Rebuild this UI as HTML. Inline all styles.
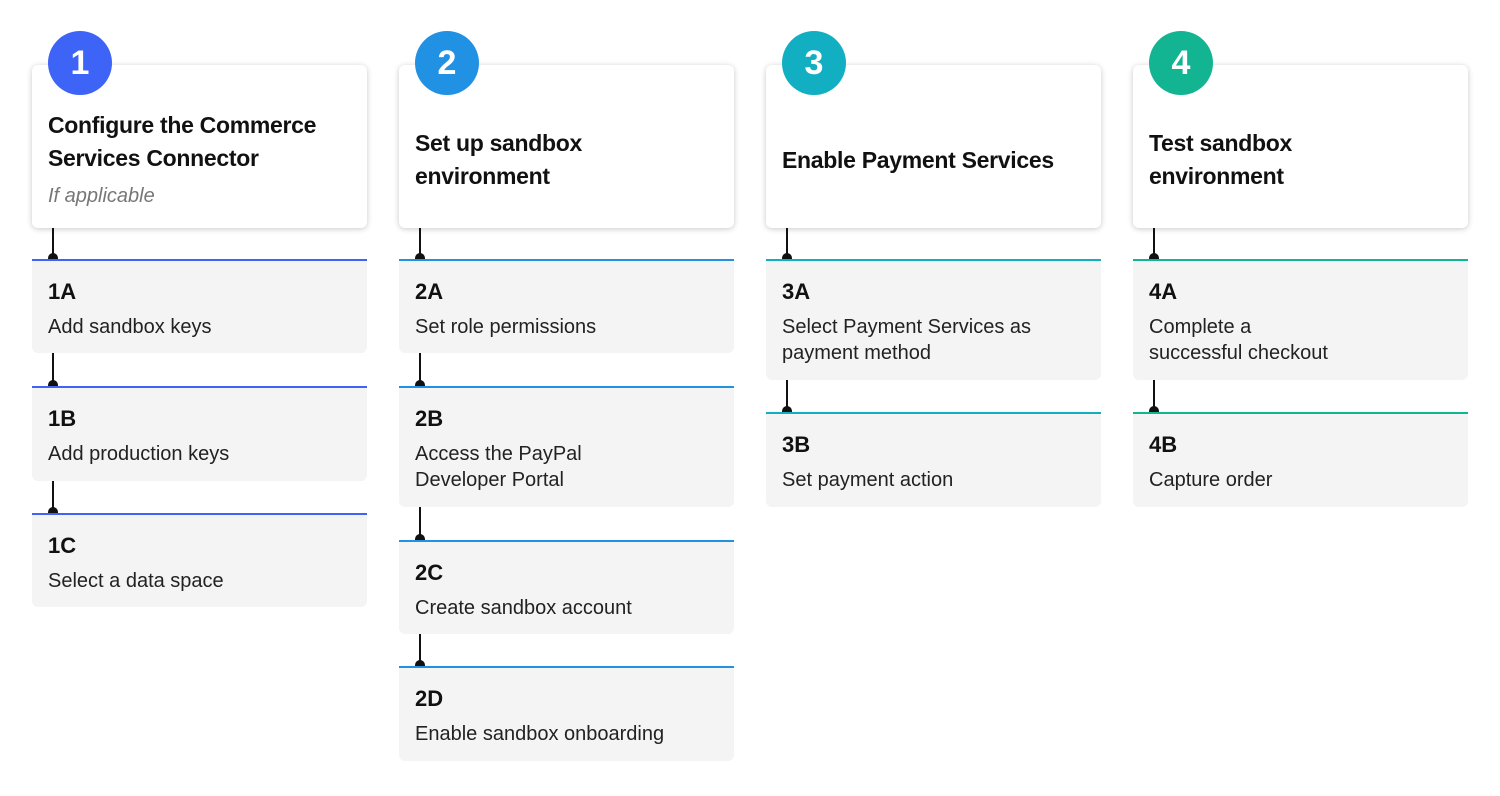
<!DOCTYPE html>
<html><head><style>
body{margin:0;width:1500px;height:796px;background:#fff;font-family:"Liberation Sans",sans-serif;position:relative;overflow:hidden}
.card{position:absolute;width:335px;top:65px;height:163px;background:#fff;border-radius:6px;box-shadow:0 1px 6px rgba(0,0,0,0.22)}
.card .t{position:absolute;left:16px;right:10px;font-weight:bold;font-size:23px;line-height:33px;color:#111;letter-spacing:-0.3px}
.card .i{position:absolute;left:16px;top:120px;font-style:italic;font-size:20px;color:#777}
.circ{position:absolute;width:64px;height:64px;border-radius:50%;color:#fff;font-weight:bold;font-size:34px;text-align:center;line-height:64px;top:31px}
.sub{position:absolute;width:335px;background:#f4f4f4;border-top:2px solid;border-radius:0 0 6px 6px;box-sizing:border-box}
.sub b{position:absolute;left:16px;top:18px;font-size:22px;color:#111}
.sub span{position:absolute;left:16px;top:53px;font-size:20px;line-height:26px;color:#222}
.con{position:absolute;width:2px;background:#111}
.dot{position:absolute;width:10px;height:7px;border-radius:5px 5px 0 0;background:#111}
</style></head><body>
<div id="root"></div>
<script>
const cols=[
 {x:32,c:"#3d64f6",n:"1",t:"Configure the Commerce<br>Services Connector",tt:44,i:"If applicable",s:[[259,353,"1A","Add sandbox keys"],[386,481,"1B","Add production keys"],[513,607,"1C","Select a data space"]]},
 {x:399,c:"#2191e3",n:"2",t:"Set up sandbox<br>environment",tt:62,s:[[259,353,"2A","Set role permissions"],[386,507,"2B","Access the PayPal<br>Developer Portal"],[540,634,"2C","Create sandbox account"],[666,761,"2D","Enable sandbox onboarding"]]},
 {x:766,c:"#12afc2",n:"3",t:"Enable Payment Services",tt:79,s:[[259,380,"3A","Select Payment Services as<br>payment method"],[412,507,"3B","Set payment action"]]},
 {x:1133,c:"#13b492",n:"4",t:"Test sandbox<br>environment",tt:62,s:[[259,380,"4A","Complete a<br>successful checkout"],[412,507,"4B","Capture order"]]}
];
let h="";
for(const c of cols){
 h+=`<div class="card" style="left:${c.x}px"><div class="t" style="top:${c.tt}px">${c.t}</div>${c.i?`<div class="i">${c.i}</div>`:""}</div>`;
 h+=`<div class="circ" style="left:${c.x+16}px;background:${c.c}">${c.n}</div>`;
 let prev=228;
 for(const s of c.s){
  h+=`<div class="con" style="left:${c.x+20}px;top:${prev}px;height:${s[0]-prev}px"></div><div class="dot" style="left:${c.x+16}px;top:${s[0]-6}px"></div>`;
  h+=`<div class="sub" style="left:${c.x}px;top:${s[0]}px;height:${s[1]-s[0]}px;border-color:${c.c}"><b>${s[2]}</b><span>${s[3]}</span></div>`;
  prev=s[1];
 }
}
document.getElementById("root").innerHTML=h;
</script>
</body></html>
